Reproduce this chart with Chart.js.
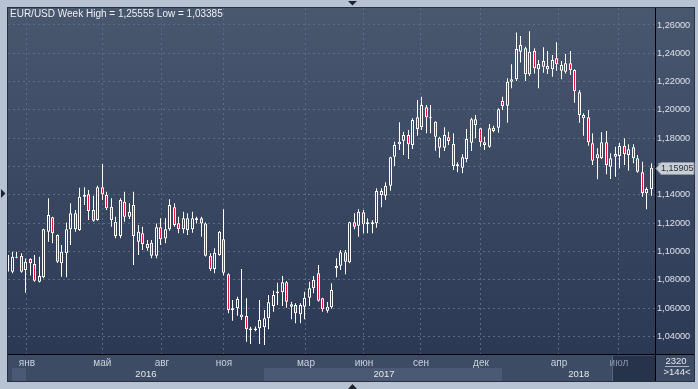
<!DOCTYPE html>
<html>
<head>
<meta charset="utf-8">
<script src="https://cdn.jsdelivr.net/npm/chart.js@4.4.0/dist/chart.umd.min.js"></script>
<style>
  html,body{ margin:0; padding:0; background:#b7c3d3; }
  #grafico{ display:block; }
</style>
</head>
<body>
<canvas id="grafico" width="698" height="389"></canvas>
<script>
// Dados (EUR/USD semanal)
const opens = [
1.0857,1.0857,1.0955,1.0967,1.0869,1.0946,1.0911,1.0786,1.0817,1.1139,1.1241,1.1116,
1.0916,1.0987,1.1156,1.1269,1.1151,1.1387,1.1404,1.1293,1.1222,1.1453,1.1399,1.1316,
1.1210,1.1109,1.1351,1.1245,1.1328,1.1068,1.1128,1.1052,1.1061,1.0970,1.1170,1.1092,
1.1156,1.1312,1.1199,1.1156,1.1234,1.1156,1.1222,1.1234,1.1198,1.0970,1.0876,1.0975,
1.1085,1.0838,1.0586,1.0598,1.0534,1.0544,1.0444,1.0444,1.0457,1.0464,1.0527,1.0614,
1.0704,1.0711,1.0782,1.0626,1.0621,1.0556,1.0609,1.0673,1.0739,1.0845,1.0669,1.0581,
1.0605,1.0881,1.0899,1.0994,1.0923,1.1206,1.1182,1.1276,1.1191,1.1191,1.1199,1.1427,
1.1394,1.1464,1.1669,1.1757,1.1782,1.1823,1.1752,1.1948,1.1877,1.2018,1.1941,1.1917,
1.1803,1.1733,1.1806,1.1759,1.1604,1.1592,1.1653,1.1768,1.1934,1.1870,1.1771,1.1740,
1.1851,1.1874,1.2065,1.2030,1.2199,1.2216,1.2411,1.2435,1.2252,1.2416,1.2287,1.2346,
1.2310,1.2287,1.2365,1.2317,1.2270,1.2329,1.2282,1.2124,1.1964,1.1948,1.1764,1.1658,
1.1658,1.1771,1.1599,1.1669,1.1674,1.1747,1.1681,1.1736,1.1658,1.1559,1.1411,1.1441
];
const highs = [
1.1003,1.0998,1.0998,1.0987,1.0950,1.0951,1.0975,1.0963,1.1160,1.1375,1.1245,1.1120,
1.1045,1.1204,1.1340,1.1293,1.1450,1.1453,1.1434,1.1394,1.1464,1.1618,1.1422,1.1375,
1.1245,1.1375,1.1422,1.1340,1.1422,1.1187,1.1175,1.1081,1.1081,1.1198,1.1234,1.1234,
1.1368,1.1340,1.1245,1.1281,1.1269,1.1281,1.1245,1.1245,1.1205,1.0987,1.1022,1.1145,
1.1298,1.0845,1.0657,1.0680,1.0876,1.0669,1.0468,1.0470,1.0657,1.0586,1.0692,1.0722,
1.0779,1.0826,1.0791,1.0645,1.0633,1.0633,1.0715,1.0786,1.0826,1.0904,1.0673,1.0643,
1.0775,1.0951,1.1010,1.1010,1.1210,1.1269,1.1298,1.1293,1.1234,1.1220,1.1446,1.1446,
1.1488,1.1669,1.1775,1.1912,1.1846,1.1858,1.1941,1.2070,1.2093,1.2035,1.2035,1.1920,
1.1810,1.1877,1.1846,1.1835,1.1630,1.1686,1.1865,1.1945,1.1964,1.1874,1.1810,1.1900,
1.1888,1.2011,1.2093,1.2223,1.2322,1.2546,1.2522,1.2447,1.25555,1.2435,1.2353,1.2442,
1.2416,1.2388,1.2478,1.2346,1.2395,1.2416,1.2287,1.2141,1.1976,1.1999,1.1835,1.1729,
1.1842,1.1851,1.1693,1.1740,1.1768,1.1799,1.1757,1.1757,1.1681,1.1634,1.1453,1.1623
];
const lows = [
1.0840,1.0845,1.0951,1.0850,1.0708,1.0830,1.0786,1.0780,1.0810,1.1068,1.1057,1.0918,
1.0821,1.0817,1.1045,1.1139,1.1146,1.1328,1.1222,1.1210,1.1217,1.1363,1.1293,1.1175,
1.1093,1.1093,1.1210,1.1229,1.0904,1.0975,1.1010,1.1005,1.0951,1.0951,1.1045,1.1057,
1.1146,1.1175,1.1128,1.1128,1.1116,1.1132,1.1198,1.1104,1.0964,1.0862,1.0845,1.0970,
1.0830,1.0563,1.0510,1.0546,1.0515,1.0362,1.0346,1.0435,1.0345,1.03385,1.0450,1.0574,
1.0621,1.0614,1.0602,1.0520,1.0492,1.0492,1.0520,1.0614,1.0704,1.0645,1.0574,1.0567,
1.0595,1.0817,1.0869,1.0838,1.0916,1.1156,1.1104,1.1128,1.1128,1.1128,1.1168,1.1312,
1.1363,1.1429,1.1604,1.1717,1.1681,1.1653,1.1724,1.1818,1.1858,1.1835,1.1835,1.1712,
1.1662,1.1710,1.1752,1.1575,1.1559,1.1552,1.1630,1.1710,1.1799,1.1740,1.1717,1.1733,
1.1842,1.1839,1.1999,1.1910,1.2153,1.2204,1.2334,1.2204,1.2240,1.2258,1.2153,1.2263,
1.2254,1.2235,1.2277,1.2216,1.2258,1.2247,1.2051,1.1910,1.1818,1.1747,1.1611,1.1510,
1.1653,1.1545,1.1512,1.1528,1.1587,1.1611,1.1570,1.1623,1.1556,1.1387,1.1298,1.1394
];
const closes = [
1.0975,1.0963,1.0963,1.0857,1.0927,1.0916,1.0793,1.0826,1.1156,1.1257,1.1128,1.0927,
1.0998,1.1156,1.1269,1.1156,1.1387,1.1399,1.1286,1.1217,1.1453,1.1404,1.1305,1.1222,
1.1109,1.1363,1.1245,1.1281,1.1109,1.1139,1.1052,1.1022,1.0970,1.1170,1.1085,1.1156,
1.1328,1.1187,1.1156,1.1234,1.1151,1.1234,1.1234,1.1198,1.0970,1.0876,1.0991,1.1139,
1.0850,1.0586,1.0598,1.0664,1.0555,1.0450,1.0456,1.0456,1.0515,1.0527,1.0640,1.0692,
1.0716,1.0782,1.0645,1.0609,1.0563,1.0621,1.0673,1.0739,1.0798,1.0652,1.0591,1.0609,
1.0727,1.0897,1.0994,1.0927,1.1206,1.1175,1.1281,1.1191,1.1206,1.1206,1.1427,1.1399,
1.1464,1.1665,1.1752,1.1775,1.1823,1.1757,1.1929,1.1863,1.2035,1.1948,1.1948,1.1811,
1.1733,1.1823,1.1780,1.1604,1.1616,1.1665,1.1794,1.1934,1.1893,1.1771,1.1752,1.1870,
1.1874,1.2004,1.2028,1.2199,1.2216,1.2430,1.2459,1.2252,1.2411,1.2294,1.2324,1.2305,
1.2287,1.2353,1.2322,1.2277,1.2329,1.2282,1.2134,1.1964,1.1941,1.1771,1.1641,1.1686,
1.1771,1.1611,1.1658,1.1688,1.1745,1.1686,1.1722,1.1658,1.1563,1.1411,1.1441,1.15905
];

// Eixos
const monthLabels = ['янв','май','авг','ноя','мар','июн','сен','дек','апр','июл'];
const monthPos = [4.27, 21.0, 34.27, 48.04, 66.27, 79.16, 91.82, 105.16, 122.49, 135.82];
const yearLabels = ['2016','2017','2018'];
const yearPos = [30.7, 83.6, 126.9];
const yearBands = [[0.93, 4.04], [56.9, 109.8]];
const currentFrom = 134.3;
const yTicks = [1.04,1.06,1.08,1.10,1.12,1.14,1.16,1.18,1.20,1.22,1.24,1.26];
const lastPrice = 1.15905;
const titulo = 'EUR/USD Week High = 1,25555 Low = 1,03385';

const RED = '#e8123c';
const GRID = '#5b6a86';
const FONT = "'Liberation Sans', Arial, sans-serif";
const idx = opens.map((_, i) => i);

let fundo = null;
function gradFundo(chart){
    if(!fundo){
        fundo = chart.ctx.createLinearGradient(0, 8, 0, 354);
        fundo.addColorStop(0, '#49576f');
        fundo.addColorStop(1, '#2c3955');
    }
    return fundo;
}

// Moldura, textos e etiqueta de preco
const moldura = {
    id: 'moldura',
    afterDatasetsUpdate(chart){
        // alinhar candles ao pixel
        chart.data.datasets.forEach((d, k) => {
            chart.getDatasetMeta(k).data.forEach(el => { el.x = Math.floor(el.x) + 0.5; });
        });
    },
    beforeDraw(chart){
        const c = chart.ctx, a = chart.chartArea, x = chart.scales.x;
        c.save();
        c.fillStyle = '#b7c3d3'; c.fillRect(0, 0, 698, 389);
        c.fillStyle = '#273041'; c.fillRect(7, 7, 688, 375);
        c.fillStyle = gradFundo(chart); c.fillRect(8, 8, 686, a.bottom - 8);
        c.fillStyle = '#3e4b65'; c.fillRect(8, a.bottom, 686, 381 - a.bottom);
        c.fillStyle = '#4b5975';
        yearBands.forEach(b => {
            const l = Math.round(x.getPixelForValue(b[0])), r = Math.round(x.getPixelForValue(b[1]));
            c.fillRect(l, 368, r - l, 13);
        });
        const cur = Math.round(x.getPixelForValue(currentFrom));
        c.fillStyle = '#27324b'; c.fillRect(cur, a.bottom + 2, a.right - cur, 379 - a.bottom);
        c.fillStyle = '#5a677e'; c.fillRect(cur, a.bottom + 2, 1, 379 - a.bottom);
        c.restore();
    },
    afterDraw(chart){
        const c = chart.ctx, a = chart.chartArea;
        c.save();
        // separadores
        c.fillStyle = '#000';
        c.fillRect(a.right, 8, 1, 373);
        c.fillRect(8, a.bottom, 686, 1);
        // titulo
        c.font = '10px ' + FONT;
        c.fillStyle = '#eef1f5';
        c.textBaseline = 'alphabetic';
        c.fillText(titulo, 10, 17);
        // etiqueta do ultimo preco
        const py = Math.round(chart.scales.y.getPixelForValue(lastPrice)) + 0.5;
        c.beginPath();
        c.moveTo(656, py); c.lineTo(661, py - 6); c.lineTo(694, py - 6);
        c.lineTo(694, py + 6); c.lineTo(661, py + 6); c.closePath();
        c.fillStyle = '#c9cdd4'; c.fill();
        c.strokeStyle = '#8d95a3'; c.lineWidth = 1; c.stroke();
        c.font = '9px ' + FONT;
        c.fillStyle = '#2b3240';
        c.textBaseline = 'middle';
        c.fillText(lastPrice.toFixed(5).replace('.', ','), 661, py + 0.5);
        // canto
        c.font = '9.5px ' + FONT;
        c.fillStyle = '#e4e8ee';
        c.textAlign = 'center';
        c.fillText('2320', 676, 361.5);
        c.fillText('>144<', 677, 372);
        c.fillStyle = '#aab4c3'; c.fillRect(665, 366, 24, 1);
        // setas
        c.fillStyle = '#1d2431';
        c.beginPath(); c.moveTo(348, 1); c.lineTo(357, 1); c.lineTo(352.5, 5.5); c.closePath(); c.fill();
        c.beginPath(); c.moveTo(348, 389); c.lineTo(357, 389); c.lineTo(352.5, 384); c.closePath(); c.fill();
        c.beginPath(); c.moveTo(1, 189); c.lineTo(1, 198); c.lineTo(5.5, 193.5); c.closePath(); c.fill();
        c.restore();
    }
};

new Chart(document.getElementById('grafico'), {
    type: 'bar',
    data: {
        datasets: [
            { label: 'corpo', order: 1, grouped: false, maxBarThickness: 3, inflateAmount: 0,
              data: idx.map(i => ({ x: i, y: [opens[i], closes[i]] })),
              backgroundColor: ctx => closes[ctx.dataIndex] < opens[ctx.dataIndex] ? RED : gradFundo(ctx.chart),
              borderColor: '#ffffff', borderWidth: 1, borderSkipped: false },
            { label: 'pavio', order: 2, grouped: false, maxBarThickness: 1, inflateAmount: 0,
              data: idx.map(i => ({ x: i, y: [lows[i], highs[i]] })),
              backgroundColor: '#ffffff', borderWidth: 0 }
        ]
    },
    options: {
        responsive: false, animation: false, devicePixelRatio: 1,
        layout: { padding: { left: 8, top: 8, right: 4, bottom: 8 } },
        plugins: { legend: { display: false }, tooltip: { enabled: false } },
        scales: {
            x: { type: 'linear', position: 'bottom', min: 0.05, max: 143.83, offset: false, weight: 0,
                 grid: { color: GRID, drawTicks: false, offset: false },
                 border: { display: false, dash: [2, 3] },
                 afterBuildTicks: s => { s.ticks = monthPos.map(v => ({ value: v })); },
                 afterFit: s => { s.height = 14; },
                 ticks: { autoSkip: false, maxRotation: 0, minRotation: 0, padding: 3,
                          font: { family: FONT, size: 10 },
                          color: ctx => ctx.index === 9 ? '#8a95a8' : '#c9d1dc',
                          callback: (v, i) => monthLabels[i] } },
            x2: { type: 'linear', axis: 'x', position: 'bottom', min: 0.05, max: 143.83, offset: false, weight: 1,
                  grid: { display: false, drawTicks: false },
                  border: { display: false },
                  afterBuildTicks: s => { s.ticks = yearPos.map(v => ({ value: v })); },
                  afterFit: s => { s.height = 13; },
                  ticks: { autoSkip: false, maxRotation: 0, minRotation: 0, padding: 1,
                           font: { family: FONT, size: 9.5 }, color: '#e4e8ee',
                           callback: (v, i) => yearLabels[i] } },
            y: { type: 'linear', position: 'right', min: 1.0275, max: 1.2720,
                 grid: { color: GRID, drawTicks: false },
                 border: { display: false, dash: [2, 3] },
                 afterBuildTicks: s => { s.ticks = yTicks.map(v => ({ value: v })); },
                 afterFit: s => { s.width = 39; },
                 ticks: { padding: 2, font: { family: FONT, size: 9.2 }, color: '#dde2ea',
                          callback: v => v.toFixed(5).replace('.', ',') } }
        }
    },
    plugins: [moldura]
});
</script>
</body>
</html>
